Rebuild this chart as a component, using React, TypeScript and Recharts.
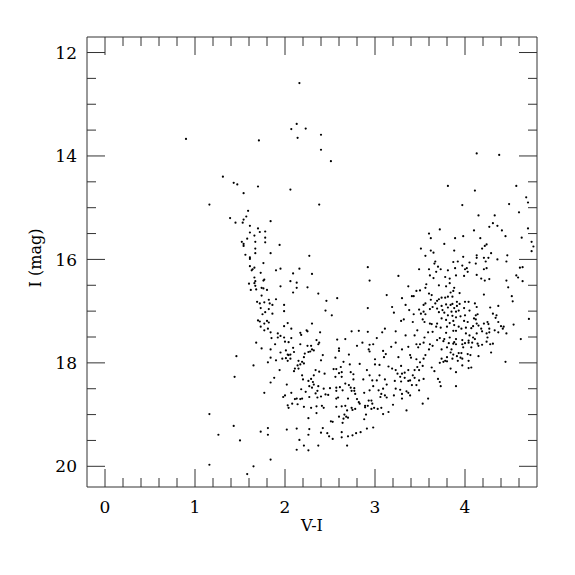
import React from "react";
import { ScatterChart, Scatter, XAxis, YAxis, Label } from "recharts";

// [V-I, I] pairs, grouped by where they sit
const brightStars: [number, number][] = [
  [0.9, 13.67], [1.31, 14.4], [1.43, 14.52], [1.47, 14.55],
  [2.16, 12.59], [2.13, 13.38], [2.07, 13.48], [2.23, 13.47], [2.4, 13.59],
  [2.14, 13.65], [1.71, 13.7], [2.4, 13.88], [2.51, 14.1], [1.7, 14.59],
  [4.13, 13.95], [4.38, 13.98], [3.81, 14.58], [4.57, 14.58],
  [1.16, 14.94], [1.39, 15.2], [1.45, 15.29],
  [2.06, 14.65], [1.54, 14.72], [2.38, 14.94],
];

const blueBranch: [number, number][] = [
  [1.59, 15.06], [1.57, 15.17], [1.54, 15.23], [1.53, 15.29], [1.84, 15.26], [1.61, 15.35],
  [1.7, 15.4], [1.72, 15.47], [1.78, 15.46], [1.61, 15.48], [1.66, 15.54], [1.58, 15.6],
  [1.78, 15.58], [1.52, 15.66], [1.54, 15.7], [1.54, 15.74], [1.67, 15.66], [1.78, 15.67],
  [1.94, 15.72], [1.67, 15.79], [1.67, 15.88], [1.84, 15.88], [1.56, 15.91], [1.61, 15.96],
  [1.61, 15.99], [2.27, 15.93], [1.76, 16.07], [1.61, 16.13], [1.66, 16.16], [1.63, 16.21],
  [1.64, 16.19], [1.95, 16.18], [1.9, 16.21], [2.16, 16.18], [2.92, 16.15], [2.09, 16.27],
  [2.3, 16.28], [1.73, 16.26], [1.66, 16.35], [1.77, 16.39], [1.76, 16.41], [1.67, 16.42],
  [2.06, 16.42], [2.13, 16.45], [2.94, 16.41], [1.6, 16.47], [1.66, 16.46], [1.67, 16.51],
  [1.95, 16.52], [1.74, 16.55], [1.76, 16.56], [1.8, 16.59], [2.13, 16.55], [2.25, 16.54],
  [1.62, 16.59], [1.68, 16.58], [2.09, 16.64], [2.37, 16.66], [3.13, 16.69], [1.74, 16.7],
  [2.58, 16.75], [1.9, 16.77], [1.82, 16.78], [2.46, 16.8], [1.69, 16.82], [1.72, 16.85],
  [1.77, 16.83], [1.83, 16.85], [1.86, 16.88], [1.73, 16.94], [1.82, 16.96], [1.99, 16.88],
  [2.92, 16.94], [2.45, 16.99], [1.99, 17.0], [1.78, 17.02], [1.86, 17.05], [1.75, 17.06],
  [2.52, 17.08], [1.7, 17.18], [1.72, 17.2], [1.8, 17.19], [1.82, 17.22], [1.77, 17.24],
  [2.03, 17.23], [2.3, 17.24], [1.73, 17.3], [1.99, 17.29], [2.07, 17.34], [1.81, 17.34],
  [1.84, 17.41], [1.77, 17.37], [2.24, 17.37], [2.25, 17.39], [1.92, 17.43], [1.95, 17.48],
  [2.17, 17.42], [2.18, 17.46], [2.39, 17.41], [2.74, 17.39], [2.82, 17.38], [2.92, 17.4],
  [3.08, 17.41], [3.11, 17.34],
];

const redClump: [number, number][] = [
  [4.11, 14.67], [4.68, 14.8], [4.7, 14.9], [4.49, 14.93], [3.97, 14.95], [4.6, 15.09],
  [4.15, 15.15], [4.33, 15.15], [4.31, 15.3], [4.27, 15.37], [4.36, 15.35], [4.41, 15.44],
  [4.7, 15.4], [3.72, 15.42], [3.6, 15.5], [3.62, 15.59], [4.1, 15.44], [4.45, 15.55],
  [3.89, 15.59], [3.98, 15.55], [4.17, 15.59], [4.63, 15.58], [4.74, 15.66], [4.76, 15.75],
  [4.74, 15.84], [3.77, 15.7], [3.51, 15.79], [3.62, 15.83], [3.65, 15.87], [4.24, 15.71],
  [4.22, 15.74], [4.29, 15.88], [4.19, 15.79], [3.88, 15.83], [4.47, 15.92], [3.56, 15.93],
  [4.13, 15.92], [4.13, 15.97], [4.36, 16.0], [4.26, 15.97], [4.46, 16.04], [3.92, 16.04],
  [3.87, 16.05], [3.67, 16.04], [3.66, 16.08], [3.98, 15.95], [3.97, 16.12], [4.05, 16.06],
  [4.21, 15.97], [4.23, 16.04], [4.12, 16.08], [4.61, 16.16], [4.64, 16.15], [3.49, 16.19],
  [3.6, 16.19], [3.7, 16.14], [3.73, 16.19], [3.81, 16.21], [3.89, 16.17], [4.02, 16.17],
  [4.0, 16.19], [4.24, 16.17], [4.21, 16.19], [4.03, 16.24], [3.68, 16.24], [3.61, 16.31],
  [3.78, 16.34], [3.9, 16.31], [3.83, 16.37], [4.13, 16.3], [3.99, 16.32], [4.27, 16.38],
  [4.22, 16.41], [4.18, 16.37], [4.46, 16.41], [4.57, 16.31], [4.59, 16.35], [4.64, 16.42],
  [3.26, 16.32], [3.65, 16.36], [3.83, 16.46], [3.79, 16.52], [3.71, 16.5], [3.37, 16.52],
  [4.48, 16.54], [3.57, 16.48], [3.56, 16.55], [3.46, 16.61], [3.5, 16.6], [3.6, 16.66],
  [3.63, 16.69], [3.41, 16.71], [3.43, 16.71], [3.84, 16.64], [3.87, 16.61], [3.88, 16.55],
  [3.81, 16.72], [3.86, 16.72], [3.94, 16.65], [3.78, 16.74], [3.74, 16.74], [3.69, 16.8],
  [3.71, 16.77], [4.21, 16.68], [4.52, 16.71], [4.53, 16.81], [3.3, 16.75], [3.62, 16.78],
  [3.19, 16.92], [3.21, 17.03], [3.34, 16.88], [3.54, 16.88], [3.56, 16.85], [3.91, 16.82],
  [4.0, 16.82], [4.04, 16.82], [3.94, 16.86], [3.86, 16.86], [3.79, 16.87], [3.74, 16.9],
  [3.67, 16.85], [3.64, 16.92], [3.69, 16.95], [3.75, 16.98], [3.81, 16.93], [3.84, 16.88],
  [3.88, 16.94], [3.91, 16.9], [3.99, 16.94], [4.11, 16.85], [4.13, 16.92], [4.37, 16.9],
  [4.28, 16.93], [3.38, 16.98], [3.49, 16.97], [3.61, 16.96], [3.54, 17.01], [3.56, 17.06],
  [3.71, 17.02], [3.77, 17.03], [3.85, 17.01], [3.9, 17.01], [3.93, 16.99], [4.05, 16.99],
  [3.81, 17.08], [3.86, 17.09], [3.95, 17.1], [4.0, 17.08], [4.12, 17.08], [4.14, 17.06],
  [4.1, 17.14], [4.12, 17.16], [4.31, 17.05], [4.35, 17.08], [4.34, 17.13], [4.25, 17.21],
  [4.37, 17.21], [4.4, 17.29], [4.54, 17.26], [4.71, 17.15], [3.32, 17.16], [3.29, 17.19],
  [3.42, 17.21], [3.43, 17.06], [3.51, 17.05], [3.53, 17.16], [3.55, 17.21], [3.61, 17.24],
  [3.63, 17.25], [3.74, 17.14], [3.79, 17.17], [3.83, 17.23], [3.87, 17.19], [3.9, 17.12],
  [3.99, 17.19], [4.03, 17.21], [4.13, 17.24], [4.15, 17.28], [4.21, 17.24], [4.26, 17.25],
  [3.69, 17.24], [3.68, 17.3], [3.73, 17.32], [3.8, 17.3], [3.88, 17.27], [3.93, 17.3],
  [3.96, 17.34], [4.01, 17.32], [4.07, 17.33], [4.09, 17.29], [4.18, 17.34], [4.27, 17.34],
  [4.33, 17.37], [4.43, 17.3], [4.42, 17.34], [3.23, 17.39], [3.34, 17.47], [3.44, 17.47],
  [3.47, 17.37], [3.59, 17.41], [3.64, 17.4], [3.79, 17.42], [3.87, 17.38], [3.9, 17.38],
  [4.01, 17.43], [4.05, 17.47], [4.13, 17.43], [4.19, 17.39], [4.24, 17.43], [4.27, 17.41],
  [4.37, 17.41], [4.46, 17.43],
];

const lowerLeft: [number, number][] = [
  [1.46, 17.87], [1.44, 18.27], [1.16, 18.99], [1.43, 19.22], [1.26, 19.39], [1.16, 19.97],
];

const lowerMiddle: [number, number][] = [
  [1.68, 17.61], [1.85, 17.52], [1.92, 17.51], [1.99, 17.51], [2.0, 17.59], [2.04, 17.6],
  [2.07, 17.52], [2.17, 17.64], [2.25, 17.67], [2.29, 17.67], [2.37, 17.64], [2.38, 17.61],
  [2.35, 17.56], [2.58, 17.55], [2.67, 17.54], [3.02, 17.52], [1.74, 17.72], [1.84, 17.74],
  [1.89, 17.64], [1.95, 17.8], [2.01, 17.76], [2.03, 17.84], [2.04, 17.85], [2.06, 17.92],
  [2.06, 17.84], [2.09, 17.71], [2.1, 17.79], [2.28, 17.78], [2.26, 17.79], [2.3, 17.74],
  [2.32, 17.76], [2.22, 17.82], [2.42, 17.85], [2.6, 17.77], [2.6, 17.72], [2.71, 17.84],
  [2.8, 17.67], [2.86, 17.61], [2.94, 17.65], [2.98, 17.64], [2.93, 17.74], [2.94, 17.78],
  [3.09, 17.77], [3.1, 17.89], [3.12, 17.83], [1.84, 17.9], [1.81, 17.99], [1.9, 17.95],
  [1.97, 17.92], [2.01, 17.91], [2.03, 17.96], [2.15, 17.96], [2.19, 17.98], [2.21, 17.89],
  [2.21, 18.01], [2.14, 18.05], [2.17, 18.03], [2.11, 18.11], [2.1, 18.16], [2.15, 18.11],
  [2.4, 17.95], [2.56, 17.9], [2.65, 17.98], [2.72, 18.03], [2.83, 18.02], [3.0, 17.93],
  [3.0, 18.03], [3.05, 18.04], [1.65, 18.05], [1.94, 18.14], [1.88, 18.29], [1.84, 18.38],
  [2.02, 18.42], [2.19, 18.24], [2.2, 18.32], [2.26, 18.35], [2.29, 18.31], [2.31, 18.37],
  [2.34, 18.14], [2.38, 18.17], [2.32, 18.24], [2.44, 18.21], [2.54, 18.12], [2.57, 18.12],
  [2.6, 18.2], [2.56, 18.27], [2.63, 18.27], [2.62, 18.08], [2.63, 18.18], [2.73, 18.18],
  [2.76, 18.22], [2.76, 18.32], [2.67, 18.4], [2.71, 18.43], [2.77, 18.49], [2.87, 18.32],
  [2.91, 18.14], [2.94, 18.24], [3.05, 18.24], [3.02, 18.34], [2.97, 18.34], [3.11, 18.32],
  [3.13, 18.42], [3.09, 18.5], [3.04, 18.53], [2.98, 18.45], [2.94, 18.53], [2.88, 18.58],
  [2.18, 18.51], [2.23, 18.56], [2.27, 18.45], [2.32, 18.42], [2.3, 18.48], [2.36, 18.54],
  [2.37, 18.45], [2.43, 18.5], [2.5, 18.49], [2.57, 18.48], [2.57, 18.54], [2.61, 18.47],
  [2.64, 18.53], [2.73, 18.48], [2.74, 18.54], [2.78, 18.6], [2.77, 18.54], [2.45, 18.61],
  [2.34, 18.59], [2.36, 18.67], [2.4, 18.65], [2.48, 18.62], [2.57, 18.69], [2.59, 18.67],
  [2.7, 18.69], [2.8, 18.7], [2.82, 18.76], [2.83, 18.79], [2.93, 18.73], [2.96, 18.73],
  [2.97, 18.79], [2.89, 18.83], [3.06, 18.66], [3.07, 18.6], [3.11, 18.63], [3.13, 18.67],
  [2.07, 18.58], [1.98, 18.66], [2.0, 18.63], [2.11, 18.7], [2.13, 18.69], [2.17, 18.7],
  [2.19, 18.69], [2.27, 18.66], [2.03, 18.82], [2.04, 18.87], [2.08, 18.79], [2.14, 18.8],
  [2.21, 18.85], [2.29, 18.87], [2.35, 18.84], [2.41, 18.83], [2.43, 18.87], [2.57, 18.85],
  [2.63, 18.84], [2.67, 18.83], [2.74, 18.87], [2.75, 18.91], [2.78, 18.89], [2.89, 18.86],
  [2.92, 18.83], [2.96, 18.89], [2.99, 18.87], [3.03, 18.89], [3.07, 18.87], [3.09, 18.99],
  [2.9, 19.0], [2.69, 18.92], [2.35, 18.97], [2.66, 19.0], [2.6, 19.04], [2.68, 19.04],
  [2.7, 19.06], [2.65, 19.08], [2.26, 19.07], [2.51, 19.13], [2.53, 19.14], [2.64, 19.16],
  [2.88, 19.09], [2.98, 19.25], [2.91, 19.27], [2.84, 19.34], [2.79, 19.36], [2.75, 19.4],
  [2.7, 19.42], [2.63, 19.34], [2.63, 19.44], [1.77, 18.58], [2.42, 19.26], [2.4, 19.35],
  [2.47, 19.36], [2.49, 19.42], [2.53, 19.47], [2.27, 19.28], [2.26, 19.39], [2.13, 19.27],
  [2.02, 19.29], [1.81, 19.26], [1.73, 19.33], [1.81, 19.39], [2.16, 19.49], [2.21, 19.6],
  [2.26, 19.69], [2.13, 19.68], [2.37, 19.6], [2.69, 19.6], [1.5, 19.5], [1.84, 19.87],
  [1.65, 20.0], [1.58, 20.15],
];

const lowerRight: [number, number][] = [
  [3.23, 17.61], [3.18, 17.69], [3.3, 17.74], [3.37, 17.69], [3.46, 17.64], [3.5, 17.64],
  [3.48, 17.7], [3.54, 17.61], [3.55, 17.51], [3.61, 17.64], [3.6, 17.74], [3.64, 17.67],
  [3.69, 17.56], [3.72, 17.52], [3.76, 17.58], [3.77, 17.54], [3.83, 17.51], [3.8, 17.7],
  [3.82, 17.62], [3.87, 17.63], [3.88, 17.6], [3.9, 17.54], [3.9, 17.64], [3.85, 17.74],
  [3.97, 17.56], [3.97, 17.64], [4.0, 17.62], [3.98, 17.7], [4.04, 17.57], [4.04, 17.61],
  [4.08, 17.61], [4.09, 17.51], [4.11, 17.54], [4.07, 17.7], [4.14, 17.63], [4.15, 17.67],
  [4.19, 17.65], [4.24, 17.59], [4.28, 17.64], [4.31, 17.63], [4.29, 17.8], [4.15, 17.87],
  [4.25, 17.51], [4.62, 17.54], [4.45, 17.98], [3.15, 18.07], [3.19, 18.11], [3.26, 17.89],
  [3.29, 18.06], [3.23, 18.14], [3.25, 18.21], [3.3, 18.21], [3.28, 18.27], [3.33, 18.19],
  [3.37, 18.14], [3.4, 17.9], [3.39, 17.85], [3.46, 17.93], [3.47, 18.08], [3.44, 18.14],
  [3.5, 17.99], [3.53, 18.06], [3.54, 17.92], [3.56, 17.85], [3.49, 18.14], [3.54, 18.31],
  [3.49, 18.34], [3.44, 18.29], [3.42, 18.24], [3.39, 18.34], [3.37, 18.35], [3.33, 18.29],
  [3.29, 18.36], [3.22, 18.35], [3.23, 18.5], [3.28, 18.52], [3.3, 18.6], [3.3, 18.69],
  [3.35, 18.55], [3.37, 18.58], [3.41, 18.43], [3.46, 18.43], [3.49, 18.53], [3.39, 18.63],
  [3.21, 18.63], [3.2, 18.81], [3.15, 18.95], [3.35, 18.92], [3.53, 18.79], [3.59, 18.69],
  [3.63, 18.09], [3.66, 18.16], [3.7, 18.31], [3.72, 18.37], [3.73, 18.45], [3.72, 18.0],
  [3.74, 17.92], [3.76, 17.98], [3.78, 17.96], [3.8, 17.97], [3.8, 17.89], [3.74, 17.74],
  [3.84, 17.8], [3.87, 17.84], [3.86, 17.92], [3.84, 18.11], [3.92, 17.96], [3.9, 18.18],
  [3.91, 17.87], [3.95, 17.9], [3.97, 17.92], [3.93, 17.81], [3.96, 17.81], [4.03, 17.83],
  [4.06, 17.85], [4.04, 17.96], [3.97, 18.05], [4.04, 18.1], [4.07, 18.09], [3.9, 18.45],
];

const xTicks = [0, 0.2, 0.4, 0.6, 0.8, 1, 1.2, 1.4, 1.6, 1.8, 2, 2.2, 2.4, 2.6, 2.8, 3, 3.2, 3.4, 3.6, 3.8, 4, 4.2, 4.4, 4.6];
const yTicks = [12, 12.5, 13, 13.5, 14, 14.5, 15, 15.5, 16, 16.5, 17, 17.5, 18, 18.5, 19, 19.5, 20];

const stars = [...brightStars, ...blueBranch, ...redClump, ...lowerLeft, ...lowerMiddle, ...lowerRight].map(
  ([vi, i]) => ({ x: vi, y: i })
);

const FONT = "DejaVu Serif";
const INK = "#333";

const onStep = (v: number, step: number) => Math.abs(v / step - Math.round(v / step)) < 1e-6;

// ticks point inward, labels only on the bottom / left sides
const BottomTick = ({ x, y, payload }: any) => {
  const major = onStep(payload.value, 1);
  return (
    <g>
      <line x1={x} y1={y} x2={x} y2={y - (major ? 18 : 9)} stroke={INK} />
      {major && (
        <text x={x} y={y + 26} textAnchor="middle" fontFamily={FONT} fontSize={17} fill="#000">
          {payload.value}
        </text>
      )}
    </g>
  );
};

const TopTick = ({ x, y, payload }: any) => {
  const major = onStep(payload.value, 1);
  return <line x1={x} y1={y} x2={x} y2={y + (major ? 18 : 9)} stroke={INK} />;
};

const LeftTick = ({ x, y, payload }: any) => {
  const major = onStep(payload.value, 2);
  return (
    <g>
      <line x1={x} y1={y} x2={x + (major ? 18 : 9)} y2={y} stroke={INK} />
      {major && (
        <text x={x - 10} y={y} dy="0.36em" textAnchor="end" fontFamily={FONT} fontSize={17} fill="#000">
          {payload.value}
        </text>
      )}
    </g>
  );
};

const RightTick = ({ x, y, payload }: any) => {
  const major = onStep(payload.value, 2);
  return <line x1={x} y1={y} x2={x - (major ? 18 : 9)} y2={y} stroke={INK} />;
};

const Dot = (p: any) => <circle cx={p.cx} cy={p.cy} r={1.1} fill="#000" />;
const NoDot = () => <g />;

export default function App() {
  return (
    <ScatterChart width={559} height={559} margin={{ top: 28, right: 29, left: 19, bottom: 30 }}>
      <XAxis
        xAxisId="bottom"
        type="number"
        dataKey="x"
        domain={[-0.2, 4.8]}
        allowDataOverflow
        ticks={xTicks}
        interval={0}
        tickSize={0}
        tickMargin={0}
        tick={<BottomTick />}
        axisLine={{ stroke: INK }}
        height={50}
      >
        <Label value="V-I" position="insideBottom" offset={6} fontFamily={FONT} fontSize={16} fill="#000" />
      </XAxis>
      <XAxis
        xAxisId="top"
        orientation="top"
        type="number"
        dataKey="x"
        domain={[-0.2, 4.8]}
        allowDataOverflow
        ticks={xTicks}
        interval={0}
        tickSize={0}
        tickMargin={0}
        tick={<TopTick />}
        axisLine={{ stroke: INK }}
        height={1}
      />
      <YAxis
        yAxisId="left"
        type="number"
        dataKey="y"
        domain={[11.7, 20.4]}
        reversed
        allowDataOverflow
        ticks={yTicks}
        interval={0}
        tickSize={0}
        tickMargin={0}
        tick={<LeftTick />}
        axisLine={{ stroke: INK }}
        width={60}
      >
        <Label
          content={() => (
            <text
              transform="translate(27,250) rotate(-90)"
              textAnchor="middle"
              dominantBaseline="central"
              fontFamily={FONT}
              fontSize={16}
              fill="#000"
            >
              I (mag)
            </text>
          )}
        />
      </YAxis>
      <YAxis
        yAxisId="right"
        orientation="right"
        type="number"
        dataKey="y"
        domain={[11.7, 20.4]}
        reversed
        allowDataOverflow
        ticks={yTicks}
        interval={0}
        tickSize={0}
        tickMargin={0}
        tick={<RightTick />}
        axisLine={{ stroke: INK }}
        width={1}
      />
      <Scatter data={stars} xAxisId="bottom" yAxisId="left" shape={<Dot />} isAnimationActive={false} />
      <Scatter data={stars} xAxisId="top" yAxisId="right" shape={<NoDot />} isAnimationActive={false} />
    </ScatterChart>
  );
}
